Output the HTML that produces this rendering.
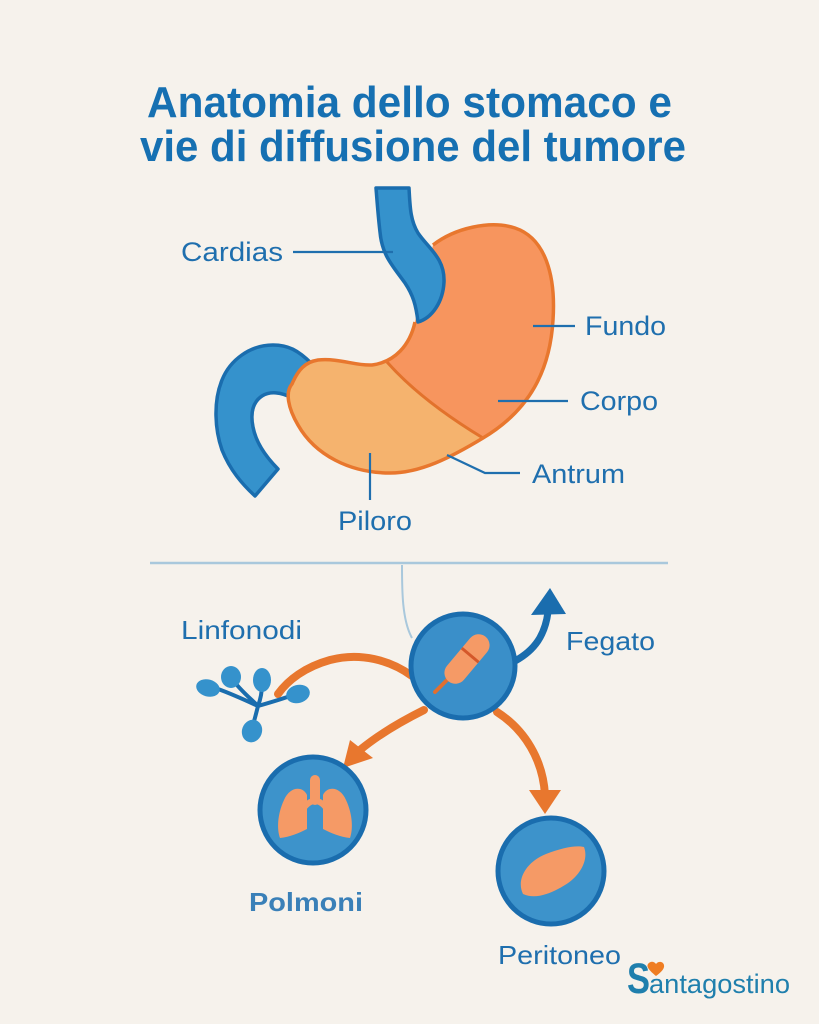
<!DOCTYPE html>
<html><head><meta charset="utf-8"><style>
html,body{margin:0;padding:0;background:#f6f2ec;}
svg{display:block;}
text{font-family:"Liberation Sans",sans-serif;}
</style></head><body>
<svg width="819" height="1024" viewBox="0 0 819 1024" xmlns="http://www.w3.org/2000/svg">
<rect width="819" height="1024" fill="#f6f2ec"/>
<!-- Title -->
<text x="147" y="117" font-size="44" font-weight="bold" fill="#1670b2" textLength="525" lengthAdjust="spacingAndGlyphs">Anatomia dello stomaco e</text>
<text x="140" y="161" font-size="44" font-weight="bold" fill="#1670b2" textLength="546" lengthAdjust="spacingAndGlyphs">vie di diffusione del tumore</text>

<!-- Duodenum -->
<path d="M312,364 C298,350 288,345 273,345 C250,345 230,360 222,380 C213,402 215,430 222,450 C230,470 242,484 255,496 L278,469 C266,457 256,443 253,427 C250,412 253,402 262,396 C270,391 281,392 292,398 Z" fill="#3592cc" stroke="#1a6dae" stroke-width="3.5" stroke-linejoin="round"/>

<!-- Stomach -->
<path d="M433,245 C455,228 490,220 515,228 C545,238 556,275 553,320 C550,370 530,410 483,438 C450,458 420,473 390,473 C350,473 315,455 298,425 C288,408 285,392 292,384 C298,370 305,362 318,360 C340,358 355,366 372,365 C395,362 410,345 415,322 Z" fill="#f7955e"/>
<path d="M387,362 C410,388 440,412 483,438 C450,458 420,473 390,473 C350,473 315,455 298,425 C288,408 285,392 292,384 C298,370 305,362 318,360 C340,358 355,366 372,365 C378,364 383,363 387,362 Z" fill="#f5b36e"/>
<path d="M387,362 C410,388 440,412 483,438" fill="none" stroke="#e2722c" stroke-width="3"/>
<path d="M433,245 C455,228 490,220 515,228 C545,238 556,275 553,320 C550,370 530,410 483,438 C450,458 420,473 390,473 C350,473 315,455 298,425 C288,408 285,392 292,384 C298,370 305,362 318,360 C340,358 355,366 372,365 C395,362 410,345 415,322" fill="none" stroke="#e8772e" stroke-width="3.5" stroke-linejoin="round"/>

<!-- Esophagus -->
<path d="M376,188 L409,188 C410,205 410,220 418,233 C428,248 445,258 444,282 C443,302 432,318 418,322 C416,305 413,295 405,283 C392,265 382,255 380,232 C378,215 377,200 376,188 Z" fill="#3592cc" stroke="#1a6dae" stroke-width="3.5" stroke-linejoin="round"/>

<!-- Label lines -->
<g stroke="#1f6fae" stroke-width="2.2" fill="none">
<line x1="293" y1="252" x2="393" y2="252"/>
<line x1="533" y1="326" x2="575" y2="326"/>
<line x1="498" y1="401" x2="568" y2="401"/>
<polyline points="447,455 485,473 520,473"/>
<line x1="370" y1="453" x2="370" y2="500"/>
</g>
<g fill="#1f6fae" font-size="27">
<text x="181" y="261" textLength="102" lengthAdjust="spacingAndGlyphs">Cardias</text>
<text x="585" y="335" textLength="81" lengthAdjust="spacingAndGlyphs">Fundo</text>
<text x="580" y="410" textLength="78" lengthAdjust="spacingAndGlyphs">Corpo</text>
<text x="532" y="483" textLength="93" lengthAdjust="spacingAndGlyphs">Antrum</text>
<text x="338" y="530" textLength="74" lengthAdjust="spacingAndGlyphs">Piloro</text>
</g>

<!-- Divider -->
<line x1="150" y1="563" x2="668" y2="563" stroke="#a9c8dc" stroke-width="2.5"/>
<path d="M402,565 C402,590 402,620 412,638" fill="none" stroke="#a9c8dc" stroke-width="2"/>

<!-- Orange arrows -->
<g stroke="#e8772e" stroke-width="8" fill="none" stroke-linecap="round">
<path d="M412,676 C390,660 360,652 330,660 C305,667 288,680 278,694"/>
<path d="M424,710 C400,722 378,735 360,750"/>
<path d="M497,712 C525,730 543,760 545,795"/>
</g>
<g fill="#e8772e">
<polygon points="343,768 350,740 373,758"/>
<polygon points="545,814 529,790 561,790"/>
</g>

<!-- Lymph nodes -->
<g stroke="#1a6dae" stroke-width="4" fill="none" stroke-linecap="round">
<path d="M258,706 C245,700 232,694 218,689"/>
<path d="M258,706 C250,698 240,690 233,680"/>
<path d="M258,706 C261,698 262,690 262,684"/>
<path d="M258,706 C272,702 285,698 296,694"/>
<path d="M258,706 C256,714 254,722 252,728"/>
</g>
<g fill="#3592cc">
<ellipse cx="208" cy="688" rx="12" ry="8.5" transform="rotate(15 208 688)"/>
<ellipse cx="231" cy="677" rx="10" ry="11"/>
<ellipse cx="262" cy="680" rx="9" ry="12"/>
<ellipse cx="298" cy="694" rx="12" ry="9" transform="rotate(-15 298 694)"/>
<ellipse cx="252" cy="731" rx="10" ry="11.5" transform="rotate(20 252 731)"/>
</g>
<text x="181" y="639" font-size="26" fill="#1f6fae" textLength="121" lengthAdjust="spacingAndGlyphs">Linfonodi</text>

<!-- Central circle -->
<circle cx="463" cy="666" r="52" fill="#3a8fc9" stroke="#1a6dae" stroke-width="5"/>
<line x1="435" y1="692" x2="448" y2="679" stroke="#e06f30" stroke-width="4" stroke-linecap="round"/>
<g transform="translate(467,659) rotate(-50)">
<rect x="-29" y="-11" width="58" height="22" rx="11" fill="#f59a66"/>
<line x1="5" y1="-11" x2="5" y2="11" stroke="#d4582a" stroke-width="3"/>
</g>

<!-- Fegato arrow -->
<path d="M515,661 C535,650 545,635 548,612" fill="none" stroke="#1a6dae" stroke-width="7"/>
<polygon points="550,588 531,615 566,614" fill="#1a6dae"/>
<text x="566" y="650" font-size="26" fill="#1f6fae" textLength="89" lengthAdjust="spacingAndGlyphs">Fegato</text>

<!-- Polmoni -->
<circle cx="313" cy="810" r="53" fill="#3d93cb" stroke="#1a6dae" stroke-width="5"/>
<g fill="#f59a66">
<path d="M307,795 C303,786 290,786 284,800 C277,815 277,830 280,838 C290,837 299,833 307,829 Z"/>
<path d="M323,795 C327,786 340,786 346,800 C353,815 353,830 350,838 C340,837 331,833 323,829 Z"/>
<rect x="310" y="775" width="10" height="30" rx="5"/>
<path d="M302,806 C306,800 310,798 315,798 C320,798 324,800 328,806 L324,810 C321,806 318,804 315,804 C312,804 309,806 306,810 Z"/>
</g>
<text x="249" y="911" font-size="26" font-weight="bold" fill="#3a80b8" textLength="114" lengthAdjust="spacingAndGlyphs">Polmoni</text>

<!-- Peritoneo -->
<circle cx="551" cy="871" r="53" fill="#3d93cb" stroke="#1a6dae" stroke-width="5"/>
<path d="M523,894 C516,880 526,862 546,854 C562,848 575,845 584,847 C589,860 580,876 565,885 C552,893 536,900 523,894 Z" fill="#f59a66"/>
<text x="498" y="964" font-size="26" fill="#1f6fae" textLength="123" lengthAdjust="spacingAndGlyphs">Peritoneo</text>

<!-- Logo -->
<text x="627" y="993" font-size="43" font-weight="bold" fill="#1f7fad" textLength="23" lengthAdjust="spacingAndGlyphs">S</text>
<path d="M656,976 C650,971 646,967 648,964 C650,961 654,961 656,964 C658,961 663,961 664,965 C665,969 660,973 656,976 Z" fill="#ef7d22"/>
<text x="649" y="993" font-size="27" fill="#1f7fad" textLength="141" lengthAdjust="spacingAndGlyphs">antagostino</text>
</svg>
</body></html>
